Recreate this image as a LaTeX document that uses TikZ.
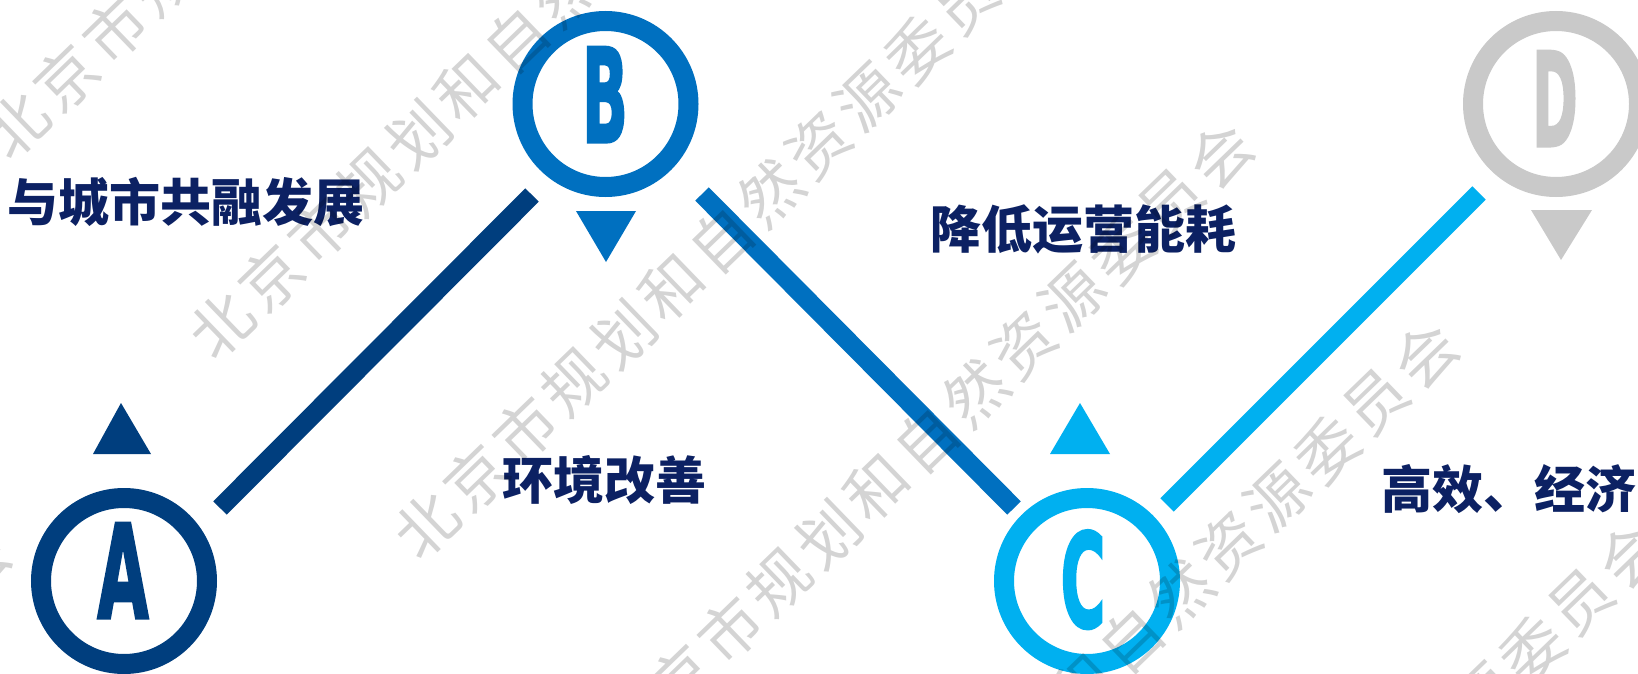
\documentclass[tikz,border=0pt]{standalone}
\usepackage{fontspec}
\newfontfamily\cjk{Noto Sans CJK SC}
\newfontfamily\letfont{DejaVu Sans}[BoldFeatures={FakeBold=2.5}]
\definecolor{colA}{HTML}{003E7E}
\definecolor{colB}{HTML}{0070C0}
\definecolor{colC}{HTML}{00B0F0}
\definecolor{colD}{HTML}{C9C9C9}
\definecolor{txtc}{HTML}{0C2163}
\tikzset{
  ring/.style={circle, draw=#1, line width=20pt, minimum size=166pt, inner sep=0pt},
  conn/.style={line width=19pt, line cap=butt},
  lbl/.style={font=\cjk\bfseries\fontsize{51}{51}\selectfont, text=txtc, inner sep=0pt},
  letter/.style={font=\letfont\bfseries\fontsize{130}{130}\selectfont, text=#1, anchor=base, inner sep=0pt},
  wm/.style={font=\cjk\fontsize{62}{62}\selectfont, text=black, text opacity=0.17, rotate=44, inner sep=0pt, anchor=center}
}
\begin{document}
\begin{tikzpicture}[x=1pt,y=-1pt]
\useasboundingbox (0,0) rectangle (1638,674);
\clip (0,0) rectangle (1638,674);
\fill[white] (0,0) rectangle (1638,674);

% circles
\node[ring=colA] (A) at (124,581) {};
\node[ring=colB] (B) at (605.5,104) {};
\node[ring=colC] (C) at (1087,581) {};
\node[ring=colD] (D) at (1556,104) {};

% letters
\node[letter=colA] (LA) at (123,618) {\scalebox{0.51}[1]{A}};
\node[letter=colB] (LB) at (605,142) {\scalebox{0.46}[1]{B}};
\node[letter=colC] (LC) at (1083,627) {\scalebox{0.47}[1]{C}};
\node[letter=colD] (LD) at (1555,146) {\scalebox{0.42}[1]{D}};

% triangles
\fill[colA] (93,454) -- (151,454) -- (121,403) -- cycle;
\fill[colB] (576,211) -- (636,211) -- (606,262) -- cycle;
\fill[colC] (1050,454) -- (1110,454) -- (1080,403) -- cycle;
\fill[colD] (1531,210) -- (1592,210) -- (1561,260) -- cycle;

% connectors
\coordinate (ab1) at (220,508);
\coordinate (ab2) at (532,195);
\coordinate (bc1) at (702,194);
\coordinate (bc2) at (1014,508);
\coordinate (cd1) at (1167,505);
\coordinate (cd2) at (1479,193);
\draw[conn, colA] (ab1) -- (ab2);
\draw[conn, colB] (bc1) -- (bc2);
\draw[conn, colC] (cd1) -- (cd2);

% labels
\node[lbl, anchor=base] (t1) at (186,221) {与城市共融发展};
\node[lbl, anchor=base] (t2) at (1083,248) {降低运营能耗};
\node[lbl, anchor=base] (t3) at (604.5,499) {环境改善};
\node[lbl, anchor=base west] (t4) at (1381,508) {高效、经济};

% watermark
\foreach \k in {1,...,6} {
  \foreach \j in {-1,0,1} {
    \foreach \c [count=\i from 0] in {北,京,市,规,划,和,自,然,资,源,委,员,会} {
      \pgfmathsetmacro\s{\i+17*\j}
      \node[wm] (wm-\k-\j-\i) at ({17+205*(\k-1)+49*\s},{125+200*(\k-1)-47.5*\s}) {\c};
    }
  }
}
\end{tikzpicture}
\end{document}
